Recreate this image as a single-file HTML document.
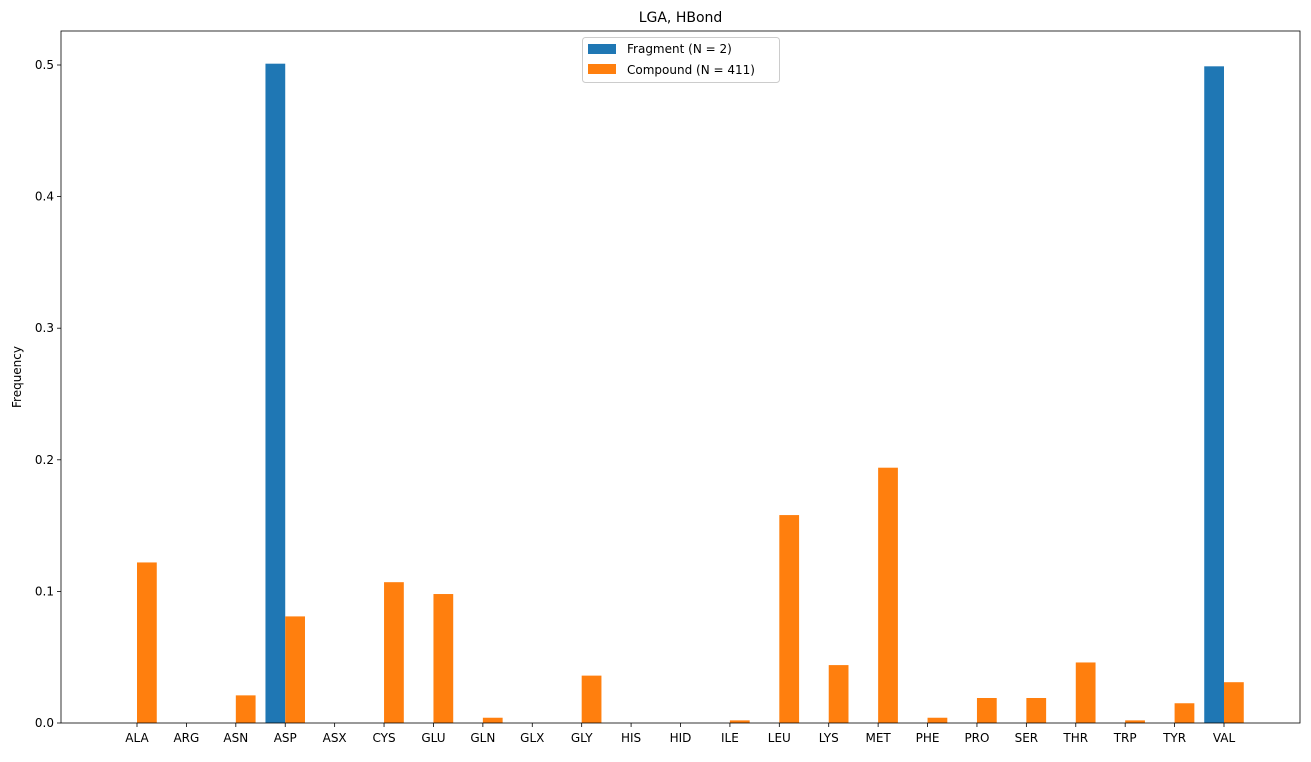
<!DOCTYPE html>
<html><head><meta charset="utf-8"><style>
body{margin:0;background:#fff;font-family:"Liberation Sans","DejaVu Sans",sans-serif}
svg text{font-family:"DejaVu Sans","Liberation Sans",sans-serif}
</style></head><body>
<svg id="chart" width="1311" height="757" xmlns="http://www.w3.org/2000/svg"></svg>
<script>
const categories=["ALA","ARG","ASN","ASP","ASX","CYS","GLU","GLN","GLX","GLY","HIS","HID","ILE","LEU","LYS","MET","PHE","PRO","SER","THR","TRP","TYR","VAL"];
const fragmentValues=[0,0,0,0.501,0,0,0,0,0,0,0,0,0,0,0,0,0,0,0,0,0,0,0.499];
const compoundValues=[0.122,0,0.021,0.081,0,0.107,0.098,0.004,0,0.036,0,0,0.002,0.158,0.044,0.194,0.004,0.019,0.019,0.046,0.002,0.015,0.031];
const yTicks=[0,0.1,0.2,0.3,0.4,0.5];
const yTickLabels=["0.0","0.1","0.2","0.3","0.4","0.5"];

const NS="http://www.w3.org/2000/svg";
const svg=document.getElementById('chart');
const L=61,R=1300,T=31,B=723;
const x0=137,dx=(1224-137)/22,bw=dx*0.4;
const xScale=i=>x0+i*dx;
const yScale=v=>B-v*1316;
function mk(tag,attrs,parent){const e=document.createElementNS(NS,tag);for(const k in attrs)e.setAttribute(k,attrs[k]);(parent||svg).appendChild(e);return e;}

categories.forEach((c,i)=>{
  const cx=xScale(i);
  if(fragmentValues[i]>0){
    const r=mk('rect',{x:cx-bw,y:yScale(fragmentValues[i]),width:bw,height:B-yScale(fragmentValues[i]),fill:'#1f77b4'});
    
    
  }
  if(compoundValues[i]>0){
    const r=mk('rect',{x:cx,y:yScale(compoundValues[i]),width:bw,height:B-yScale(compoundValues[i]),fill:'#ff7f0e'});
    
    
  }
  mk('line',{x1:cx,x2:cx,y1:B,y2:B+4,stroke:'#000','stroke-width':0.8});
  const t=mk('text',{x:cx,y:B+19,'text-anchor':'middle','font-size':12});
  t.textContent=c;
  
  
});
yTicks.forEach((v,i)=>{
  const y=yScale(v);
  mk('line',{x1:L-4,x2:L,y1:y,y2:y,stroke:'#000','stroke-width':0.8});
  const t=mk('text',{x:L-7,y:y+4,'text-anchor':'end','font-size':12});
  t.textContent=yTickLabels[i];
  
  
});
const frame=mk('rect',{x:L,y:T,width:R-L,height:B-T,fill:'none',stroke:'#000','stroke-width':0.8});


const title=mk('text',{x:(L+R)/2,y:22,'text-anchor':'middle','font-size':14});
title.textContent='LGA, HBond';


const yl=mk('text',{x:21,y:(T+B)/2,'text-anchor':'middle','font-size':12,transform:`rotate(-90 21 ${(T+B)/2})`});
yl.textContent='Frequency';


const lg=mk('g',{});


mk('rect',{x:582.5,y:37.5,width:197,height:45,rx:3,fill:'#fff',stroke:'#ccc'},lg);
mk('rect',{x:588,y:44,width:28,height:10,fill:'#1f77b4'},lg);
mk('rect',{x:588,y:64,width:28,height:10,fill:'#ff7f0e'},lg);
const t1=mk('text',{x:627,y:53,'font-size':12},lg);t1.textContent='Fragment (N = 2)';


const t2=mk('text',{x:627,y:74,'font-size':12},lg);t2.textContent='Compound (N = 411)';


</script>
</body></html>
